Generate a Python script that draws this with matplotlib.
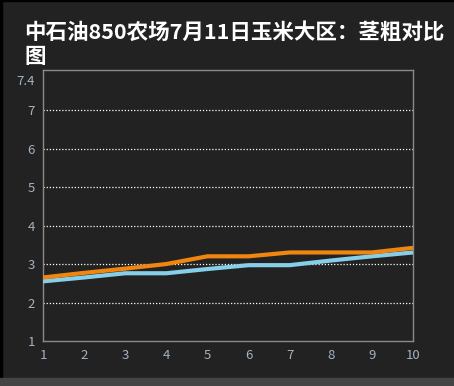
import matplotlib
matplotlib.use('agg')
import matplotlib.pyplot as plt

# 数据
days = [1, 2, 3, 4, 5, 6, 7, 8, 9, 10]
stem_orange = [2.65, 2.77, 2.88, 3.0, 3.2, 3.2, 3.3, 3.3, 3.3, 3.42]
stem_blue = [2.55, 2.65, 2.76, 2.76, 2.87, 2.97, 2.97, 3.09, 3.2, 3.3]
y_ticks = [1, 2, 3, 4, 5, 6, 7]
y_max_label = "7.4"
title = "中石油850农场7月11日玉米大区：茎粗对比\n图"

plt.rcParams['font.family'] = ['Noto Sans CJK SC', 'DejaVu Sans']

bg = "#222222"
fig = plt.figure(figsize=(4.54, 3.86), dpi=100, facecolor=bg)
ax = fig.add_axes([43 / 454, 1 - 341 / 386, 370 / 454, 271 / 386])
ax.set_facecolor(bg)

# 外框和底部条
fig.patches.append(plt.Rectangle((0, 0), 2 / 454, 1, transform=fig.transFigure,
                                 color="black", zorder=0))
fig.patches.append(plt.Rectangle((0, 1 - 1 / 386), 1, 1 / 386, transform=fig.transFigure,
                                 color="black", zorder=0))
fig.patches.append(plt.Rectangle((0, 0), 1, 8 / 386, transform=fig.transFigure,
                                 color="#444444", zorder=0))

ax.plot(days, stem_blue, color="#87cfe8", linewidth=3, solid_capstyle="butt", zorder=3)
ax.plot(days, stem_orange, color="#f0860f", linewidth=3, solid_capstyle="butt", zorder=4)

ax.set_xlim(1, 10)
ax.set_ylim(1, 8.04)
ax.set_xticks(days)
ax.set_yticks(y_ticks + [7.78])
ax.set_yticklabels([str(v) for v in y_ticks] + [y_max_label])

for v in y_ticks[1:]:
    ax.axhline(v, color="white", linestyle=(0, (1, 1.5)), linewidth=0.9, zorder=1)

for s in ax.spines.values():
    s.set_color("#8a8a8a")
    s.set_linewidth(1)

ax.tick_params(length=0, colors="#a3b2c2", labelsize=9.5, pad=6)

fig.text(24 / 454, 1 - 22 / 386, title, color="white", fontsize=15.5, fontweight="bold",
         va="top", ha="left", linespacing=1.15)

fig.savefig("out.png", dpi=100, facecolor=bg)
